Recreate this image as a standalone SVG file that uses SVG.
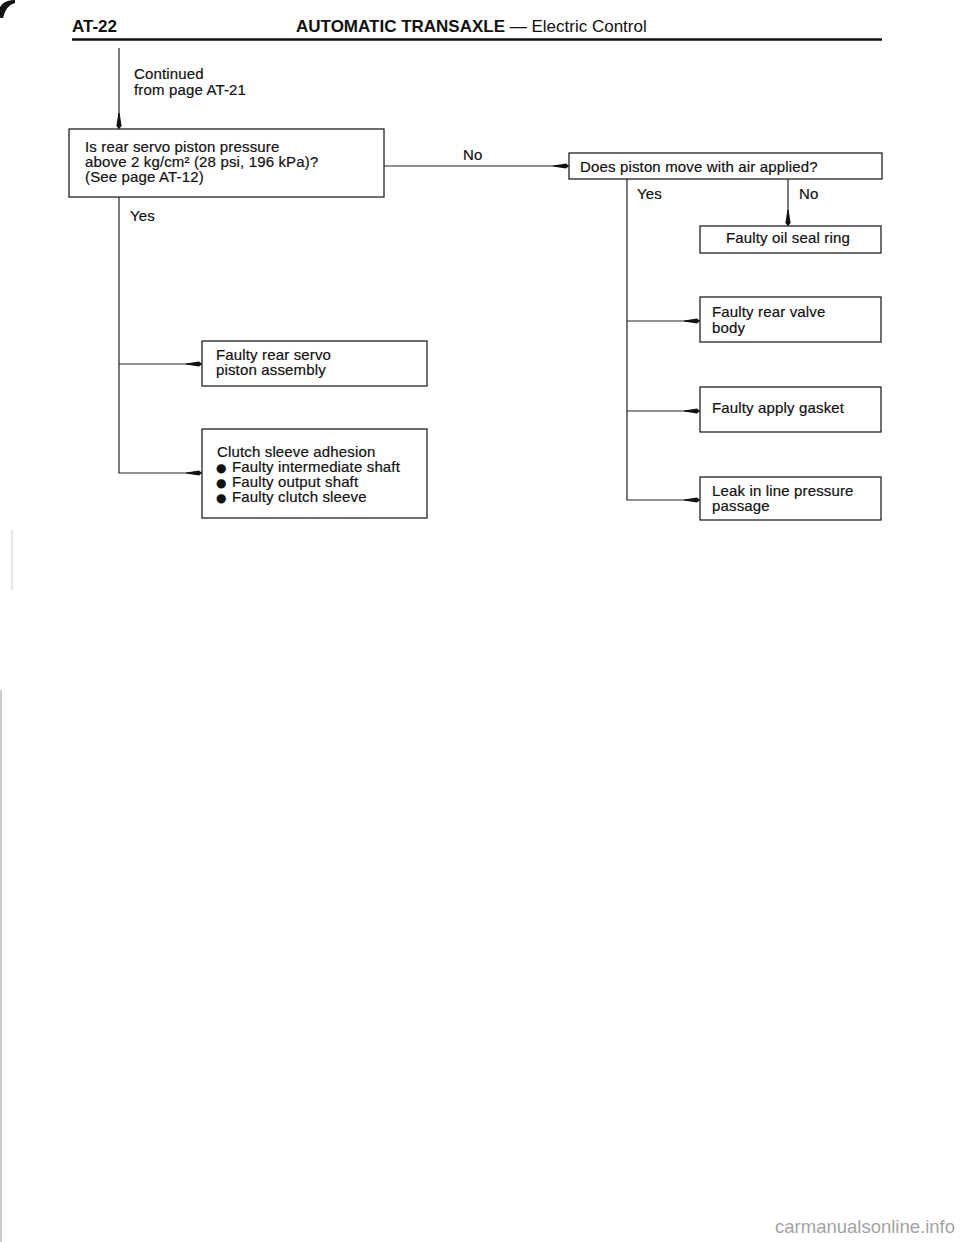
<svg xmlns="http://www.w3.org/2000/svg" width="960" height="1242" viewBox="0 0 960 1242">
<style>
.t{font-family:"Liberation Sans",Arial,sans-serif;font-size:15px;letter-spacing:0.15px;fill:#111;stroke:#111;stroke-width:0.2}
.h{font-family:"Liberation Sans",Arial,sans-serif;font-size:17px;font-weight:bold;fill:#111}
.hn{font-weight:normal}
.bul{font-family:"DejaVu Sans",sans-serif;font-size:12px;letter-spacing:0}
.box{fill:#fff;stroke:#222;stroke-width:1.3}
.ln{fill:none;stroke:#222;stroke-width:1.2}
.wm{font-family:"Liberation Sans",Arial,sans-serif;font-size:18.5px;fill:#a3a3a3}
</style>
<defs>
<marker id="ah" markerWidth="18" markerHeight="8" refX="16" refY="4" orient="auto" markerUnits="userSpaceOnUse">
<path d="M0,3.4 L13,1.4 L16,4 L13,6.6 L0,4.6 Z" fill="#111"/>
</marker>
</defs>
<rect width="960" height="1242" fill="#fff"/>
<g id="page-marks">
<path d="M0,18 L0,7 Q3,1 13,0 L15,0 L15,3 Q6,5 3,18 Z" fill="#111"/>
<line x1="1" y1="690" x2="1" y2="1242" stroke="#bbb" stroke-width="1.5"/>
<line x1="12" y1="530" x2="12" y2="590" stroke="#ccc" stroke-width="1"/>
</g>
<g id="header">
<text class="h" x="72" y="32">AT-22</text>
<text class="h" x="296" y="32">AUTOMATIC TRANSAXLE<tspan class="hn"> — Electric Control</tspan></text>
<line x1="72" y1="39.5" x2="882" y2="39.5" stroke="#111" stroke-width="2.6"/>
</g>
<g id="connectors">
<path class="ln" d="M119,48 V129" marker-end="url(#ah)"/>
<path class="ln" d="M384,166 H569" marker-end="url(#ah)"/>
<path class="ln" d="M119,197 V473 H202" marker-end="url(#ah)"/>
<path class="ln" d="M119,364 H202" marker-end="url(#ah)"/>
<path class="ln" d="M788,179 V226" marker-end="url(#ah)"/>
<path class="ln" d="M627,179 V500 H700" marker-end="url(#ah)"/>
<path class="ln" d="M627,321 H700" marker-end="url(#ah)"/>
<path class="ln" d="M627,411 H700" marker-end="url(#ah)"/>
<text class="t" x="134" y="79">Continued</text>
<text class="t" x="134" y="95">from page AT-21</text>
<text class="t" x="463" y="160">No</text>
<text class="t" x="130" y="221">Yes</text>
<text class="t" x="637" y="199">Yes</text>
<text class="t" x="799" y="199">No</text>
</g>
<g id="q1">
<rect class="box" x="69" y="129" width="315" height="68"/>
<text class="t" x="85" y="152">Is rear servo piston pressure</text>
<text class="t" x="85" y="167">above 2 kg/cm² (28 psi, 196 kPa)?</text>
<text class="t" x="85" y="182">(See page AT-12)</text>
</g>
<g id="q2">
<rect class="box" x="569" y="153" width="313" height="26"/>
<text class="t" x="580" y="172">Does piston move with air applied?</text>
</g>
<g id="oil-seal">
<rect class="box" x="700" y="226" width="181" height="27"/>
<text class="t" x="726" y="243">Faulty oil seal ring</text>
</g>
<g id="valve-body">
<rect class="box" x="700" y="297" width="181" height="45"/>
<text class="t" x="712" y="317">Faulty rear valve</text>
<text class="t" x="712" y="333">body</text>
</g>
<g id="apply-gasket">
<rect class="box" x="700" y="387" width="181" height="45"/>
<text class="t" x="712" y="413">Faulty apply gasket</text>
</g>
<g id="line-leak">
<rect class="box" x="700" y="477" width="181" height="43"/>
<text class="t" x="712" y="496">Leak in line pressure</text>
<text class="t" x="712" y="511">passage</text>
</g>
<g id="servo-piston">
<rect class="box" x="202" y="341" width="225" height="45"/>
<text class="t" x="216" y="360">Faulty rear servo</text>
<text class="t" x="216" y="375">piston assembly</text>
</g>
<g id="clutch-sleeve">
<rect class="box" x="202" y="429" width="225" height="89"/>
<text class="t" x="217" y="457">Clutch sleeve adhesion</text>
<text class="t" x="216" y="472"><tspan class="bul">●</tspan><tspan x="232">Faulty intermediate shaft</tspan></text>
<text class="t" x="216" y="487"><tspan class="bul">●</tspan><tspan x="232">Faulty output shaft</tspan></text>
<text class="t" x="216" y="502"><tspan class="bul">●</tspan><tspan x="232">Faulty clutch sleeve</tspan></text>
</g>
<g id="watermark">
<text class="wm" x="955" y="1233" text-anchor="end">carmanualsonline.info</text>
</g>
</svg>
